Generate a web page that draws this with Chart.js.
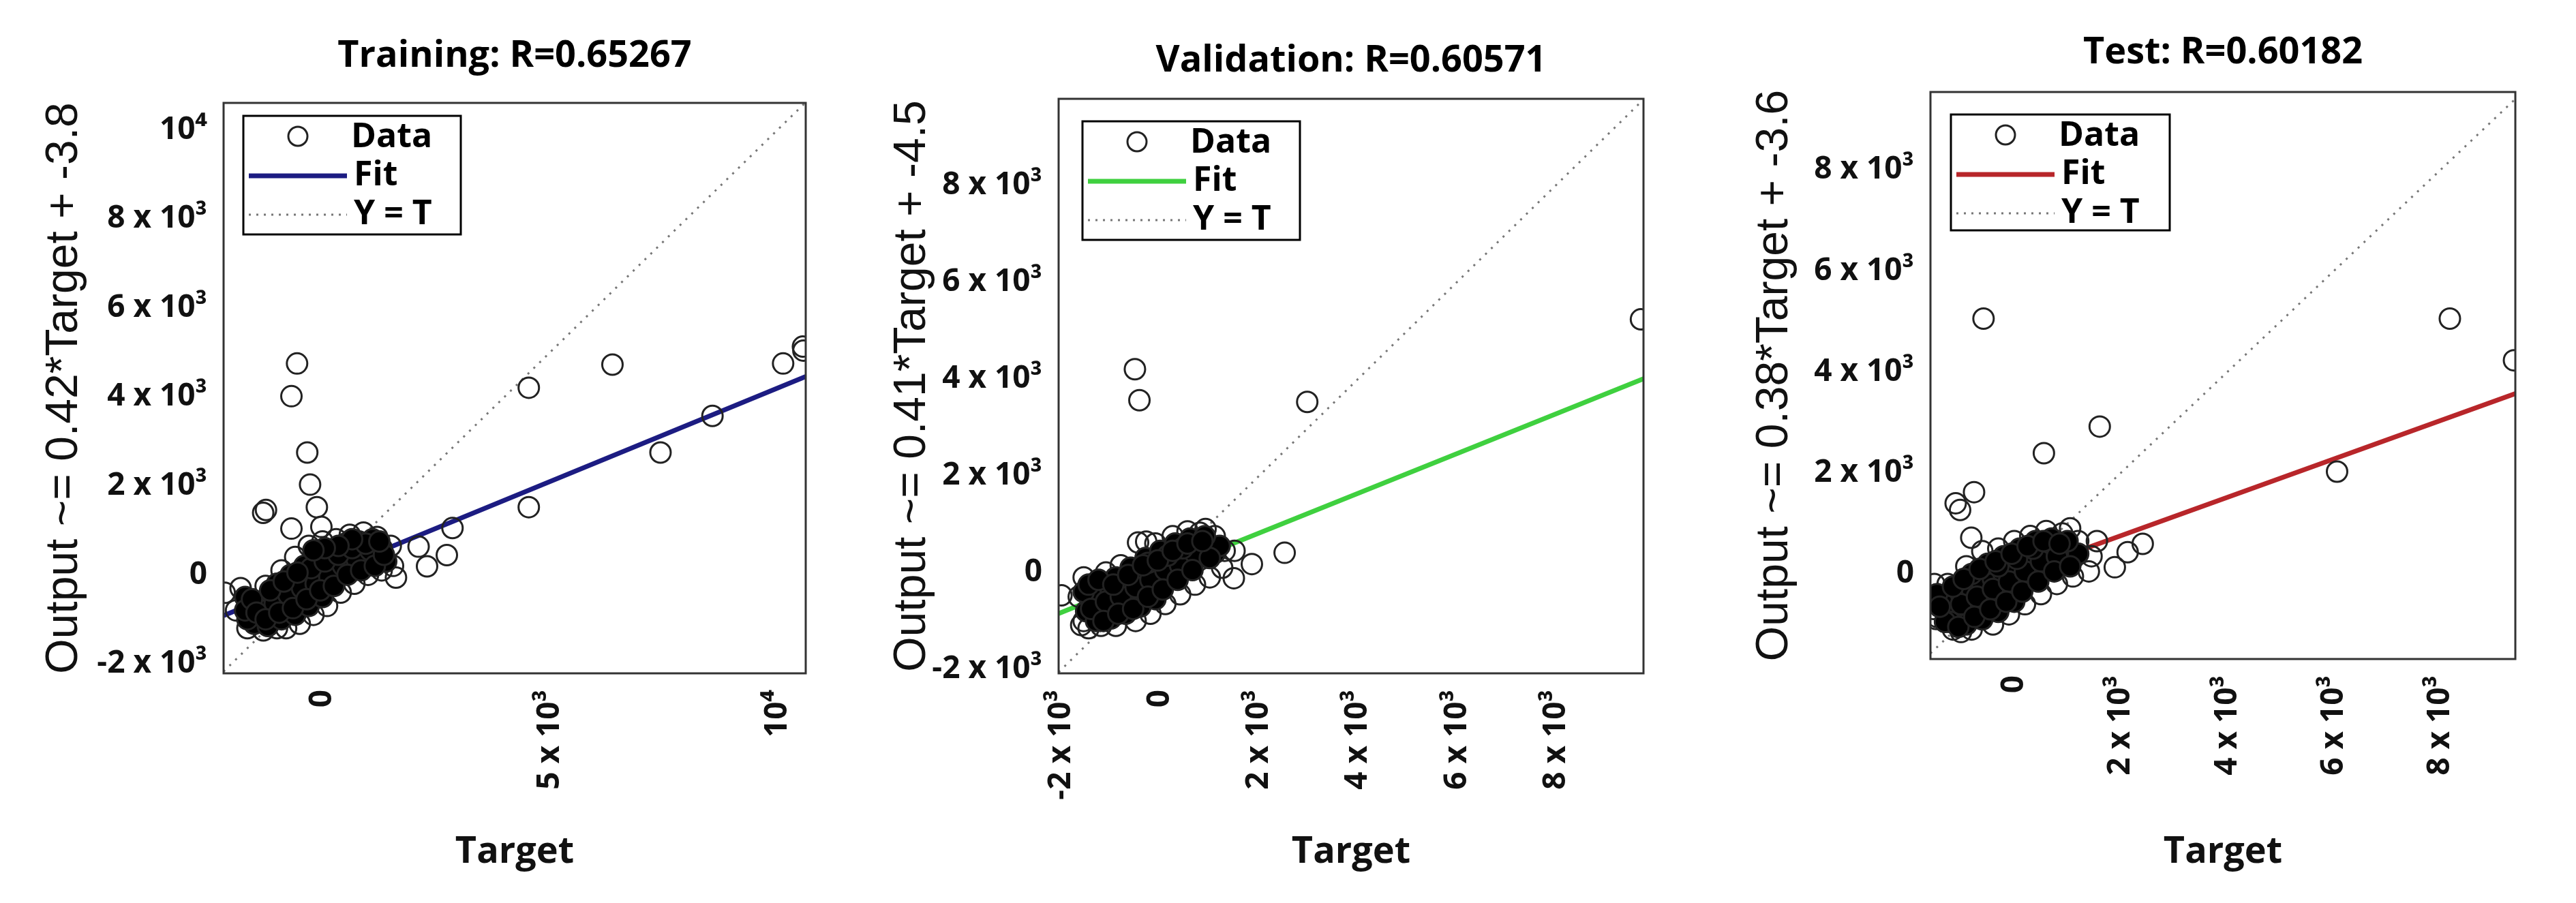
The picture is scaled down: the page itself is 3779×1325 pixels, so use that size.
<!DOCTYPE html>
<html><head><meta charset="utf-8">
<script src="https://cdn.jsdelivr.net/npm/chart.js@4"></script>
<style>body{margin:0;background:#fff;width:3779px;height:1325px;position:relative;overflow:hidden}
.c{position:absolute;top:0;height:1325px}</style></head><body>
<div class="c" style="left:0;width:1230px"><canvas id="c1"></canvas></div>
<div class="c" style="left:1240px;width:1220px"><canvas id="c2"></canvas></div>
<div class="c" style="left:2500px;width:1240px"><canvas id="c3"></canvas></div>
<script>
const titles = ["Training: R=0.65267","Validation: R=0.60571","Test: R=0.60182"];
const yTitles = ["Output ~= 0.42*Target + -3.8","Output ~= 0.41*Target + -4.5","Output ~= 0.38*Target + -3.6"];
const fitSlope = [0.42,0.41,0.38];
const fitIntercept = [-3.8,-4.5,-3.6];
const fitColors = ["#1c1c82","#3fd03f","#b8262a"];
const xRanges = [[-2174,10621],[-2057,9771],[-1573,9405]];
const yRanges = [[-2215,10608],[-2082,9785],[-1685,9542]];
const xTicks = [[0,5000,10000],[-2000,0,2000,4000,6000,8000],[0,2000,4000,6000,8000]];
const xTickLabels = [["0","5 x 10³","10⁴"],["-2 x 10³","0","2 x 10³","4 x 10³","6 x 10³","8 x 10³"],["0","2 x 10³","4 x 10³","6 x 10³","8 x 10³"]];
const yTicks = [[-2000,0,2000,4000,6000,8000,10000],[-2000,0,2000,4000,6000,8000],[0,2000,4000,6000,8000]];
const yTickLabels = [["-2 x 10³","0","2 x 10³","4 x 10³","6 x 10³","8 x 10³","10⁴"],["-2 x 10³","0","2 x 10³","4 x 10³","6 x 10³","8 x 10³"],["0","2 x 10³","4 x 10³","6 x 10³","8 x 10³"]];

const core1 = [[-1600,-900],[-1500,-700],[-1400,-1000],[-1300,-600],[-1200,-900],[-1100,-500],[-1000,-800],[-900,-400],[-800,-700],[-700,-300],[-600,-600],[-500,-200],[-400,-500],[-300,-100],[-200,-400],[-100,0],[0,-250],[100,150],[200,-100],[300,250],[400,50],[500,350],[600,150],[700,450],[800,250],[900,500],[1000,350],[1100,550],[1200,400],[1300,600],[-1500,-1100],[-1200,-1150],[-900,-1000],[-600,-900],[-300,-700],[0,-500],[-1000,-200],[-700,0],[-400,200],[-100,400],[200,550],[500,700],[800,750],[1100,800],[-1700,-500],[1400,300],[-1650,-1000],[-1350,-800],[-1050,-650],[-750,-450],[-450,-300],[-150,-200],[150,-50],[450,200],[750,350],[1050,550],[-250,150],[50,300],[350,450],[650,600],[-1700,-800],[-1550,-550],[-1450,-850],[-1250,-1000],[-1150,-350],[-950,-850],[-850,-150],[-650,-750],[-550,50],[-350,-550],[-50,-350],[250,-250],[550,0],[850,100],[1150,200],[1350,450],[950,700],[650,800],[350,650],[50,600],[-200,550],[1250,750]];
const edge1 = [[-1800,-300],[-1650,-1200],[-1300,-1250],[-1000,-1200],[-1250,-250],[-900,100],[-600,400],[-300,650],[0,750],[300,800],[600,900],[900,950],[1200,850],[1500,650],[1550,200],[1300,100],[1000,0],[700,-200],[400,-400],[100,-700],[-200,-900],[-500,-1100],[-800,-1200],[-1900,-800]];
const out1 = [[-559,4750],[-683,4015],[-335,2749],[-273,2027],[-124,1520],[-1242,1457],[-1304,1393],[-683,1039],[-25,1077],[4534,4205],[6373,4725],[10124,4750],[10560,5130],[10570,5040],[8571,3572],[7429,2749],[4534,1520],[2857,1051],[2733,443],[2298,190],[2112,633],[-2150,-405],[1615,-63]];

const core2 = [[-1500,-800],[-1400,-600],[-1300,-900],[-1200,-500],[-1100,-800],[-1000,-400],[-900,-700],[-800,-300],[-700,-600],[-600,-200],[-500,-500],[-400,-100],[-300,-400],[-200,0],[-100,-300],[0,100],[100,-150],[200,250],[300,0],[400,350],[500,100],[600,450],[700,250],[800,550],[900,350],[1000,500],[1100,400],[1200,550],[-1300,-1000],[-1000,-950],[-700,-850],[-400,-700],[-100,-550],[-900,-100],[-600,100],[-300,300],[0,450],[300,600],[600,700],[900,750],[-1550,-400],[-1400,-750],[-1100,-600],[-800,-500],[-500,-300],[-200,-150],[100,50],[400,150],[700,400],[1000,300],[-250,200],[150,350],[450,500],[-1450,-250],[-1250,-150],[-950,-250],[-650,-50],[-350,150],[-50,250],[250,450],[550,600],[850,650],[-1150,-1000],[-850,-850],[-550,-750],[-250,-500],[50,-350],[350,-150],[650,50]];
const edge2 = [[-1650,-500],[-1550,-1000],[-1200,-1100],[-900,-1100],[-1550,-100],[-1100,0],[-800,150],[-450,620],[-100,600],[250,750],[550,850],[800,820],[1100,750],[1300,450],[1250,100],[1000,-100],[700,-250],[400,-450],[100,-650],[-200,-850],[-500,-1000],[-1450,-1150]];
const out2 = [[-514,4200],[-423,3559],[2971,3524],[9720,5230],[2514,408],[1851,175],[914,898],[1486,-117],[-2000,-470],[-1600,-1085],[-286,640],[1500,450]];

const core3 = [[-1300,-700],[-1200,-500],[-1100,-800],[-1000,-400],[-900,-700],[-800,-300],[-700,-600],[-600,-200],[-500,-500],[-400,-100],[-300,-400],[-200,0],[-100,-300],[0,100],[100,-150],[200,250],[300,0],[400,350],[500,100],[600,450],[700,250],[800,500],[900,300],[1000,450],[1100,300],[1200,400],[-1200,-950],[-900,-1000],[-600,-900],[-300,-750],[0,-550],[-800,0],[-500,200],[-200,350],[100,500],[400,650],[700,700],[1000,650],[-1450,-400],[-1300,-950],[-1000,-600],[-700,-450],[-400,-300],[-100,-150],[200,50],[500,250],[800,350],[-300,150],[50,300],[350,500],[-1400,-650],[-1150,-250],[-950,-100],[-650,100],[-350,250],[-50,400],[250,550],[550,650],[850,600],[-1050,-1050],[-750,-850],[-450,-700],[-150,-550],[150,-350],[450,-150],[750,50],[1050,150]];
const edge3 = [[-1500,-200],[-1450,-850],[-1150,-1100],[-800,-1100],[-1250,-200],[-900,150],[-600,450],[-300,500],[0,650],[300,750],[600,850],[900,800],[1200,650],[1450,350],[1400,50],[1100,-50],[800,-200],[500,-400],[200,-600],[-100,-800],[-400,-1000],[-1000,-1150],[-1550,-500]];
const out3 = [[-577,5055],[8176,5055],[9380,4230],[1604,2918],[556,2390],[6059,2026],[-755,1619],[-1100,1399],[-1017,1266],[-807,716],[1048,903],[2411,595],[2128,430],[1887,132],[1551,650],[-1467,-892],[-1520,-694]];

const cores=[core1,core2,core3], edges=[edge1,edge2,edge3], outs=[out1,out2,out3];
const geo = [
 {left:328,right:48,top:151,bottom:337,yt:93,tt:83,lg:[29,19,319,174]},
 {left:313,right:49,top:145,bottom:337,yt:97,tt:90,lg:[35,33,319,174]},
 {left:332,right:50,top:135,bottom:358,yt:102,tt:78,lg:[30,33,321,170]}
];
const pts = a => a.map(p=>({x:p[0],y:p[1]}));

function make(i){
  const g=geo[i];
  const xr=xRanges[i], yr=yRanges[i];
  const fit=[{x:xr[0],y:fitSlope[i]*xr[0]+fitIntercept[i]},{x:xr[1],y:fitSlope[i]*xr[1]+fitIntercept[i]}];
  const lo=Math.max(xr[0],yr[0]), hi=Math.min(xr[1],yr[1]);
  const yt=[{x:lo,y:lo},{x:hi,y:hi}];
  const ptStyle={showLine:false,pointRadius:15,pointBorderWidth:3,pointBorderColor:"#222",pointHoverRadius:15};
  const deco={id:'deco',
    afterDraw(ch){
      const c=ch.ctx,a=ch.chartArea;
      c.save();
      c.strokeStyle="#333";c.lineWidth=3;c.strokeRect(a.left,a.top,a.right-a.left,a.bottom-a.top);
      c.fillStyle="#000";c.font="bold 54px 'Open Sans'";c.textAlign="center";c.textBaseline="middle";
      c.fillText(titles[i],(a.left+a.right)/2,g.tt);
      const [lx,ly,lw,lh]=g.lg; const x=a.left+lx,y=a.top+ly;
      c.fillStyle="#fff";c.fillRect(x,y,lw,lh);c.lineWidth=3;c.strokeStyle="#000";c.strokeRect(x,y,lw,lh);
      c.font="bold 50px 'Open Sans'";c.textAlign="left";c.fillStyle="#000";
      c.beginPath();c.lineWidth=3;c.strokeStyle="#222";c.arc(x+80,y+30,14,0,Math.PI*2);c.stroke();
      c.fillText("Data",x+158,y+32);
      c.beginPath();c.strokeStyle=fitColors[i];c.lineWidth=7;c.moveTo(x+8,y+88);c.lineTo(x+152,y+88);c.stroke();
      c.fillText("Fit",x+162,y+88);
      c.beginPath();c.strokeStyle="#777";c.lineWidth=3;c.setLineDash([3,8]);c.moveTo(x+8,y+145);c.lineTo(x+152,y+145);c.stroke();c.setLineDash([]);
      c.fillText("Y = T",x+162,y+145);
      c.restore();
    }};
  new Chart(document.getElementById('c'+(i+1)),{
    type:'scatter',
    data:{datasets:[
      {data:pts(cores[i]),...ptStyle,pointBackgroundColor:"#000"},
      {data:pts(edges[i]),...ptStyle,pointBackgroundColor:"rgba(0,0,0,0)"},
      {data:pts(outs[i]),...ptStyle,pointBackgroundColor:"rgba(0,0,0,0)"},
      {type:'line',data:yt,showLine:true,pointRadius:0,borderColor:"#777",borderWidth:3,borderDash:[3,9]},
      {type:'line',data:fit,showLine:true,pointRadius:0,borderColor:fitColors[i],borderWidth:7}
    ]},
    options:{responsive:true,maintainAspectRatio:false,animation:false,
      layout:{padding:{left:0,right:g.right,top:g.top,bottom:0}},
      plugins:{legend:{display:false},tooltip:{enabled:false}},
      scales:{
        x:{type:'linear',min:xr[0],max:xr[1],grid:{display:false},border:{display:false},
          afterBuildTicks:s=>{s.ticks=xTicks[i].map(v=>({value:v}));},
          afterFit:s=>{s.height=g.bottom;},
          ticks:{maxRotation:90,minRotation:90,padding:16,color:"#111",font:{size:46,weight:"bold",family:"'Open Sans'"},
            callback:v=>{const k=xTicks[i].indexOf(v);return k<0?"":xTickLabels[i][k];}},
          title:{display:true,text:"Target",color:"#111",font:{size:54,weight:"bold",family:"'Open Sans'"},padding:{top:0,bottom:42}}},
        y:{type:'linear',min:yr[0],max:yr[1],grid:{display:false},border:{display:false},
          afterBuildTicks:s=>{s.ticks=yTicks[i].map(v=>({value:v}));},
          afterFit:s=>{s.width=g.left;},
          ticks:{padding:16,color:"#111",font:{size:46,weight:"bold",family:"'Open Sans'"},
            callback:v=>{const k=yTicks[i].indexOf(v);return k<0?"":yTickLabels[i][k];}},
          title:{display:true,text:yTitles[i],color:"#111",font:{size:66,family:"'Liberation Sans'"},padding:{top:g.yt-38,bottom:0}}}
      }},
    plugins:[deco]
  });
}
[0,1,2].forEach(make);
</script></body></html>
